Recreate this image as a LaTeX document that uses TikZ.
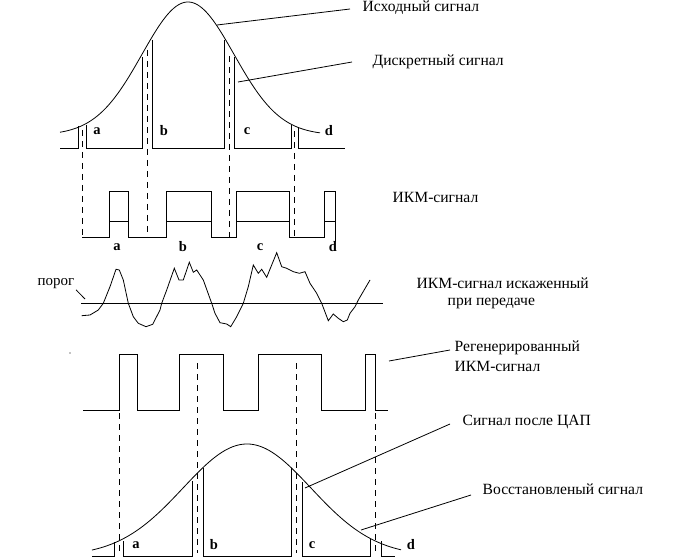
\documentclass[tikz,border=0pt]{standalone}
\usepackage{fontspec}
\setmainfont{Liberation Serif}
\usetikzlibrary{arrows}
\tikzset{lbl/.style={font=\bfseries\fontsize{14.5}{14.5}\selectfont},
txt/.style={font=\fontsize{15.6}{20}\selectfont,anchor=west,align=left},
cut/.style={dash pattern=on 6pt off 5pt}}

\begin{document}
\begin{tikzpicture}[x=1pt,y=-1pt,thick]
\useasboundingbox (0,0) rectangle (681,559);

\draw plot[domain=60:320,samples=120] (\x,{135-133*exp(-0.5*((\x-188)/46)^2)});
\draw (60,148) -- (78,148) -- (78,126);
\draw (86,125) -- (86,148) -- (142,148) -- (142,57);
\draw (152,40) -- (152,148) -- (224,148) -- (224,40);
\draw (234,57) -- (234,148) -- (291,148) -- (291,125);
\draw (298,128) -- (298,148) -- (345,148);
\foreach \x/\t in {97/a,164/b,247/c,329/d}
\node[lbl] (top\t) at (\x,131) {\t};
\foreach \x/\y in {82/130,147/50,229/56,294/131}
\draw[cut] (\x,\y) -- (\x,237);

\draw (82,237) -- (109,237) -- (109,191) -- (128,191) -- (128,237) -- (166,237) -- (166,191) -- (211,191) -- (211,237) -- (236,237) -- (236,191) -- (289,191) -- (289,237) -- (324,237) -- (324,191) -- (335,191) -- (335,242);
\foreach \a/\b in {109/128,166/211,236/289,324/335}
\draw (\a,221) -- (\b,221);
\foreach \x/\t in {117/a,183/b,260/c,333/d}
\node[lbl] (pcm\t) at (\x,247) {\t};

\draw (81,303) -- (383,303);
\draw (81.7,315.7) -- (90,315) -- (98.3,310) -- (103.3,303.3) -- (110,286.7) -- (116,269.3) -- (119.3,270) -- (123.3,280) -- (128.3,303.3) -- (133.3,316.7) -- (138.3,323.3) -- (146,326.7) -- (152.7,324.3) -- (160,310) -- (161.7,303.3) -- (166.7,290) -- (174.3,268.3) -- (179,280) -- (183.3,280) -- (189.3,262.3) -- (193.3,272.3) -- (196.7,270) -- (203.3,280) -- (211.7,303.3) -- (215,313.3) -- (220,322.7) -- (226.7,324) -- (230.7,326.7) -- (236.7,316.7) -- (243.3,303.3) -- (248.3,286.7) -- (253.3,265) -- (258.3,273.3) -- (261.7,269.3) -- (266.7,277.3) -- (271,266.7) -- (276.7,252.7) -- (281.7,266.7) -- (286.7,268.3) -- (293.3,271.7) -- (299.3,273.3) -- (305,271.7) -- (310,283.3) -- (316.7,293.3) -- (321.7,303.3) -- (328.3,320.7) -- (333.3,314) -- (338.3,318.3) -- (343.3,321.7) -- (347.3,320) -- (350,313.3) -- (355,306.7) -- (358.3,300) -- (370,280);
\node[font=\fontsize{15}{15}\selectfont] (porog) at (56,284) {порог};
\coordinate (thr) at (85,299);
\draw ([xshift=-2pt,yshift=3pt]porog.south east) -- (thr);
\fill (70,353) circle (0.6);

\draw (83,410) -- (119,410) -- (119,354) -- (137,354) -- (137,410) -- (179,410) -- (179,354) -- (223,354) -- (223,410) -- (258,410) -- (258,354) -- (321,354) -- (321,410) -- (365,410) -- (365,354) -- (375,354) -- (375,410) -- (388,410);
\foreach \x/\y in {119/413,197/363,296/363,375/413}
\draw[cut] (\x,\y) -- (\x,553);

\draw plot[domain=92:401,samples=120] (\x,{556-112*exp(-0.5*((\x-247)/64)^2)});
\draw (92,556) -- (114,556) -- (114,542);
\draw (123,541) -- (123,556) -- (192,556) -- (192,481);
\draw (203,468) -- (203,556) -- (291,556) -- (291,468);
\draw (302,482) -- (302,556) -- (370,556) -- (370,539);
\draw (381,541) -- (381,556) -- (395,556);
\foreach \x/\t in {136/a,214/b,312/c,411/d}
\node[lbl] (bot\t) at (\x,545) {\t};

\node[txt] (src) at (359,8) {Исходный сигнал};
\node[txt] (disc) at (369,62) {Дискретный сигнал};
\node[txt] (pcm) at (389,197) {ИКМ-сигнал};
\node[txt] (noisy) at (413,283) {ИКМ-сигнал искаженный};
\node[txt] (noisyb) at (444,303) {при передаче};
\node[txt] (regen) at (451,356) {Регенерированный\\ИКМ-сигнал};
\node[txt] (dac) at (459,422) {Сигнал после ЦАП};
\node[txt] (rest) at (479,489) {Восстановленый сигнал};

\coordinate (srcpt) at (217,25);
\coordinate (discpt) at (238,82);
\coordinate (regpt) at (389,361);
\coordinate (dacpt) at (305,488);
\coordinate (restpt) at (361,530);
\draw (srcpt) -- ([xshift=-9pt,yshift=-1pt]src.west);
\draw (discpt) -- ([xshift=-17pt]disc.west);
\draw (regpt) -- ([xshift=-1pt,yshift=6pt]regen.west);
\draw (dacpt) -- ([xshift=-9pt,yshift=-2pt]dac.west);
\draw (restpt) -- ([xshift=-8pt,yshift=-6pt]rest.west);
\end{tikzpicture}
\end{document}
